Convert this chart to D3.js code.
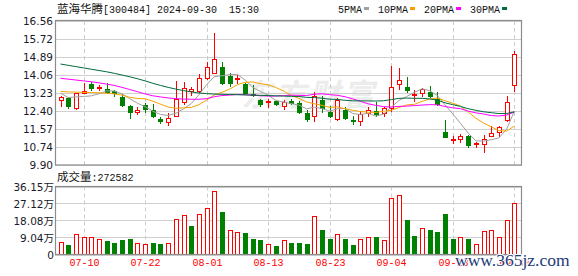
<!DOCTYPE html>
<html>
<head>
<meta charset="utf-8">
<script src="https://cdn.jsdelivr.net/npm/d3@7"></script>
<style>
html,body{margin:0;padding:0;background:#fff;}
svg{display:block;}
</style>
</head>
<body>
<script>
// ---------- DATA ----------
const stockName = "蓝海华腾";
const stockCode = "[300484]";
const stamp = "2024-09-30  15:30";
const dates = ["07-05","07-08","07-09","07-10","07-11","07-12","07-15","07-16","07-17","07-18","07-19","07-22","07-23","07-24","07-25","07-26","07-29","07-30","07-31","08-01","08-02","08-05","08-06","08-07","08-08","08-09","08-12","08-13","08-14","08-15","08-16","08-19","08-20","08-21","08-22","08-23","08-26","08-27","08-28","08-29","08-30","09-02","09-03","09-04","09-05","09-06","09-09","09-10","09-11","09-12","09-13","09-18","09-19","09-20","09-23","09-24","09-25","09-26","09-27","09-30"];
const opens  = [12.89,12.99,12.52,13.23,13.63,13.43,13.40,13.32,13.04,12.63,12.32,12.68,12.44,12.03,11.88,12.14,12.81,13.28,13.30,13.88,14.14,14.43,14.00,13.86,13.66,13.17,12.92,12.80,12.86,12.62,12.86,12.76,12.32,12.13,12.91,12.34,12.01,12.44,11.98,11.90,12.29,12.41,12.29,12.52,13.63,13.52,13.12,13.22,13.26,12.94,11.44,11.04,11.09,11.24,10.86,10.86,11.21,11.39,11.98,13.60];
const highs  = [13.10,13.06,13.22,13.68,13.75,13.60,13.68,13.37,13.17,12.66,12.60,12.75,12.72,12.11,12.29,13.79,13.72,13.53,14.10,14.66,16.01,14.68,14.17,14.05,13.70,13.61,12.97,12.94,12.89,12.92,12.94,12.84,12.44,13.29,13.09,12.64,13.00,12.60,12.18,12.41,12.60,12.83,12.60,14.48,14.40,13.96,13.37,13.48,13.55,13.26,11.98,11.24,11.33,11.29,10.98,11.29,11.70,11.70,13.09,15.17];
const lows   = [12.57,12.49,12.44,13.18,13.32,13.32,13.17,13.06,12.60,12.01,12.21,12.32,12.06,11.78,11.72,12.12,12.69,13.08,13.24,13.83,14.13,13.60,13.52,13.66,13.14,13.06,12.58,12.55,12.63,12.43,12.66,12.28,11.90,11.90,12.32,12.06,11.94,11.98,11.75,11.70,12.13,12.13,12.13,12.37,13.35,13.24,12.83,13.03,12.99,12.63,11.16,10.87,10.90,10.67,10.67,10.47,11.21,11.21,11.90,13.29];
const closes = [13.01,12.57,13.22,13.29,13.40,13.49,13.24,13.18,12.64,12.29,12.43,12.44,12.13,11.90,12.06,12.93,13.46,13.37,13.91,14.42,14.78,13.65,13.66,13.90,13.17,13.08,12.66,12.85,12.66,12.81,12.71,12.32,11.98,13.06,12.48,12.13,12.87,12.03,11.90,12.25,12.40,12.21,12.52,13.49,13.79,13.32,13.16,13.37,13.03,12.68,11.16,11.06,11.21,10.78,10.88,11.10,11.37,11.64,12.80,15.02];
const prevClose = 12.90; // close of the day before the first shown day
// volume in lots (手)
const volumes = [64000,53000,107000,92000,92000,80000,71000,60000,76000,82000,59000,55000,60000,55000,59000,187000,208000,151000,213000,245000,337000,225000,128000,117000,114000,82000,76000,53000,44000,73000,60000,60000,55000,204000,129000,83000,108000,83000,52000,81000,92000,92000,76000,300000,311000,183000,99000,140000,129000,119000,215000,83000,92000,83000,53000,123000,128000,92000,183000,272582];
// moving-average values before a full window is available
const ma5Head  = [13.22,13.02,13.05,13.07];
const ma10Head = [13.30,13.28,13.27,13.26,13.25,13.24,13.22,13.19,13.13];
const ma20Head = [13.91,13.87,13.83,13.79,13.75,13.70,13.64,13.58,13.49,13.39,13.29,13.19,13.10,13.05,13.00,12.97,12.95,12.94,12.94];
const ma30Head = [14.57,14.51,14.45,14.39,14.33,14.27,14.21,14.14,14.06,13.98,13.89,13.79,13.68,13.58,13.49,13.41,13.34,13.28,13.23,13.20,13.18,13.17,13.16,13.15,13.14,13.13,13.12,13.11,13.10];
const maNames = ["5PMA","10PMA","20PMA","30PMA"];
const maPeriods = [5,10,20,30];
const priceTicks = [9.90,10.74,11.57,12.40,13.23,14.06,14.89,15.72,16.56];
const volTicks = [0,90400,180800,271200,361500];
const xTickDates = ["07-10","07-22","08-01","08-13","08-23","09-04","09-18","09-30"];
const volTitle = "成交量";
const watermark = "www.365jz.com";
const brandMark = "东方财富";

// ---------- STYLE ----------
const W = 578, H = 276;
const L = 55, R = 522;
const pTop = 21, pBot = 165;
const vTop = 186.5, vBot = 254.5;
const RED = "#ff0000", GREEN = "#008000";
const maColors = ["#a0a0a0","#f5a300","#ff00ff","#006b3c"];
const monoFont = "'Liberation Mono','DejaVu Sans Mono',monospace";
const cjkFont = "'Noto Sans CJK SC','Noto Sans',sans-serif";
const numFont = "'DejaVu Sans','Noto Sans CJK SC',sans-serif";

const svg = d3.select("body").append("svg").attr("width", W).attr("height", H);

const x = d3.scalePoint().domain(dates).range([60.5, 514.3]);
const yP = d3.scaleLinear().domain([priceTicks[0], priceTicks[priceTicks.length-1]]).range([pBot, pTop]);
const yV = d3.scaleLinear().domain([0, volTicks[volTicks.length-1]]).range([vBot, vTop]);
const cx = d => Math.round(x(d)) + 0.5;

const data = dates.map((d,i)=>({d, o:opens[i], h:highs[i], l:lows[i], c:closes[i], v:volumes[i],
  up: closes[i] >= opens[i], vUp: closes[i] >= (i ? closes[i-1] : prevClose)}));

// ---------- WATERMARK (brand) ----------
svg.append("text").attr("x", 242).attr("y", 106)
  .attr("transform","skewX(-12) translate(22,0)")
  .attr("font-family", cjkFont).attr("font-weight","bold").attr("font-size", 31)
  .attr("letter-spacing", 3).attr("fill", "#ececec").text(brandMark);

// ---------- GRIDS ----------
svg.append("g").selectAll("line").data(priceTicks).join("line")
  .attr("x1", L).attr("x2", R)
  .attr("y1", d => Math.round(yP(d)) + 0.5).attr("y2", d => Math.round(yP(d)) + 0.5)
  .attr("stroke", "#d0d0d0").attr("stroke-width", 1);
svg.append("g").selectAll("line").data(volTicks).join("line")
  .attr("x1", L).attr("x2", R)
  .attr("y1", d => Math.round(yV(d)) + 0.5).attr("y2", d => Math.round(yV(d)) + 0.5)
  .attr("stroke", "#d0d0d0").attr("stroke-width", 1);
const vg = svg.append("g");
[[pTop, pBot],[vTop, vBot]].forEach(([a,b]) => {
  vg.append("g").selectAll("line").data(xTickDates).join("line")
    .attr("x1", d => cx(d)).attr("x2", d => cx(d))
    .attr("y1", a).attr("y2", b)
    .attr("stroke", "#cccccc").attr("stroke-width", 1).attr("stroke-dasharray", "4,3");
});

// ---------- CANDLES ----------
const cg = svg.append("g").attr("shape-rendering","crispEdges");
data.forEach(p => {
  const X = cx(p.d);
  const top = yP(Math.max(p.o,p.c)), bot = yP(Math.min(p.o,p.c));
  const col = p.up ? RED : GREEN;
  if (p.up) {
    cg.append("line").attr("x1",X).attr("x2",X).attr("y1",yP(p.h)).attr("y2",top).attr("stroke",col);
    cg.append("line").attr("x1",X).attr("x2",X).attr("y1",bot).attr("y2",yP(p.l)).attr("stroke",col);
    cg.append("rect").attr("x",X-2).attr("width",4).attr("y",top).attr("height",Math.max(1,bot-top))
      .attr("fill","#fff").attr("stroke",col).attr("stroke-width",1);
  } else {
    cg.append("line").attr("x1",X).attr("x2",X).attr("y1",yP(p.h)).attr("y2",yP(p.l)).attr("stroke",col);
    cg.append("rect").attr("x",X-2.5).attr("width",5).attr("y",top).attr("height",Math.max(1.5,bot-top))
      .attr("fill",col);
  }
});

// ---------- MOVING AVERAGES ----------
const heads = [ma5Head, ma10Head, ma20Head, ma30Head];
const maSeries = maPeriods.map((n,k) => closes.map((c,i) =>
  i < n-1 ? heads[k][i] : d3.mean(closes.slice(i-n+1, i+1))));
const line = d3.line().x((v,i) => x(dates[i])).y(v => yP(v));
svg.append("g").selectAll("path").data(maSeries).join("path")
  .attr("d", line).attr("fill","none").attr("stroke",(d,k)=>maColors[k]).attr("stroke-width",1);

// ---------- VOLUME ----------
const vb = svg.append("g").attr("shape-rendering","crispEdges");
data.forEach(p => {
  const X = cx(p.d);
  const t = yV(p.v);
  if (p.vUp) {
    vb.append("rect").attr("x",X-2).attr("width",4).attr("y",t).attr("height",vBot-t)
      .attr("fill","#fff").attr("stroke",RED).attr("stroke-width",1);
  } else {
    vb.append("rect").attr("x",X-2.5).attr("width",5).attr("y",t).attr("height",vBot-t).attr("fill",GREEN);
  }
});

// ---------- FRAMES ----------
svg.append("rect").attr("x",L+0.5).attr("y",pTop-0.5).attr("width",R-L-1).attr("height",pBot-pTop+0.5)
  .attr("fill","none").attr("stroke","#8c8c8c").attr("stroke-width",1.2);
svg.append("rect").attr("x",L+0.5).attr("y",vTop).attr("width",R-L-1).attr("height",vBot-vTop)
  .attr("fill","none").attr("stroke","#8c8c8c").attr("stroke-width",1.2);

// ---------- AXES ----------
const ay = svg.append("g").attr("transform",`translate(${L-2},0)`)
  .call(d3.axisLeft(yP).tickValues(priceTicks).tickFormat(d3.format(".2f")).tickSize(0).tickPadding(0));
ay.select(".domain").remove();
ay.selectAll("text").attr("font-family",numFont).attr("font-size",10.5).attr("fill","#1a1a2a").attr("dy","0.36em");

const av = svg.append("g").attr("transform",`translate(${L-1},0)`)
  .call(d3.axisLeft(yV).tickValues(volTicks).tickFormat(v => v === 0 ? "0" : (v/1e4).toFixed(2) + "万").tickSize(0).tickPadding(0));
av.select(".domain").remove();
av.selectAll("text").attr("font-family",numFont).attr("font-size",10.5).attr("fill","#1a1a2a").attr("dy","0.36em");

const ax = svg.append("g").attr("transform",`translate(0,${vBot+1})`)
  .call(d3.axisBottom(x).tickValues(xTickDates).tickSize(0).tickPadding(3));
ax.select(".domain").remove();
ax.selectAll(".tick").attr("transform", d => `translate(${cx(d)},0)`);
ax.selectAll("text").attr("font-family",monoFont).attr("font-size",10).attr("fill",RED);

// ---------- TITLE & LEGEND ----------
const title = svg.append("text").attr("x",57).attr("y",13).attr("fill","#111");
title.append("tspan").attr("font-family",cjkFont).attr("font-size",11.5).text(stockName);
title.append("tspan").attr("font-family",monoFont).attr("font-size",10).attr("xml:space","preserve")
  .text(stockCode + " " + stamp);

let lx = 338;
const lg = svg.append("g");
maNames.forEach((nm,k) => {
  const t = lg.append("text").attr("x",lx).attr("y",13).attr("font-family",monoFont).attr("font-size",10)
    .attr("fill","#111").text(nm);
  const w = t.node().getComputedTextLength();
  lg.append("rect").attr("x",lx+w+2).attr("y",7).attr("width",5).attr("height",3).attr("fill",maColors[k]);
  lx += w + 16;
});

const vt = svg.append("text").attr("x",57).attr("y",181).attr("fill","#111");
vt.append("tspan").attr("font-family",cjkFont).attr("font-size",11.5).text(volTitle);
vt.append("tspan").attr("font-family",monoFont).attr("font-size",10).text(":" + volumes[volumes.length-1]);

// ---------- SITE WATERMARK ----------
svg.append("text").attr("x",455).attr("y",266)
  .attr("font-family","'Liberation Serif','DejaVu Serif',serif").attr("font-size",17.5)
  .attr("fill","#1c3a78").attr("stroke","#ffffff").attr("stroke-width",2).attr("paint-order","stroke")
  .text(watermark);
</script>
</body>
</html>
